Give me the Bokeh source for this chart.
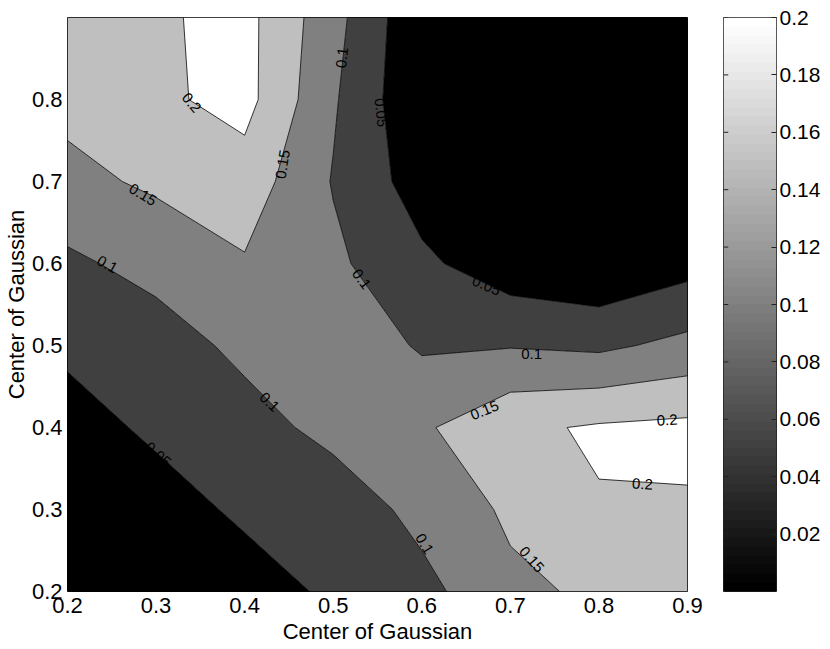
import numpy as np
from bokeh.plotting import figure
from bokeh.models import Range1d, FixedTicker, LinearColorMapper, CustomJSTickFormatter
from bokeh.layouts import row
from bokeh.embed import file_html
from bokeh.resources import INLINE
from bokeh.core.properties import value

# grid of Gaussian centres
x_centers = [0.2, 0.3, 0.4, 0.5, 0.6, 0.7, 0.8, 0.9]
y_centers = [0.2, 0.3, 0.4, 0.5, 0.6, 0.7, 0.8, 0.9]

# values, one list per row (y = 0.2 ... 0.9)
z_y020 = [0.002, 0.010, 0.028, 0.058, 0.0845, 0.140, 0.158, 0.175]
z_y030 = [0.010, 0.029, 0.0586, 0.0685, 0.1155, 0.158, 0.1967, 0.195]
z_y040 = [0.030, 0.059, 0.0795, 0.1155, 0.1424, 0.190, 0.2056, 0.2118]
z_y050 = [0.0594, 0.0755, 0.1126, 0.137, 0.094, 0.097, 0.090, 0.1138]
z_y060 = [0.0904, 0.117, 0.1455, 0.110, 0.060, 0.020, 0.005, 0.032]
z_y070 = [0.137, 0.158, 0.178, 0.097, 0.026, 0.005, 0.002, 0.003]
z_y080 = [0.163, 0.190, 0.217, 0.106, 0.006, 0.003, 0.002, 0.002]
z_y090 = [0.175, 0.193, 0.2157, 0.1176, 0.0076, 0.004, 0.002, 0.003]

contour_levels = [0.0, 0.05, 0.1, 0.15, 0.2, 0.25]
x_ticks = [0.2, 0.3, 0.4, 0.5, 0.6, 0.7, 0.8, 0.9]
y_ticks = [0.2, 0.3, 0.4, 0.5, 0.6, 0.7, 0.8]
cbar_ticks = [0.02, 0.04, 0.06, 0.08, 0.1, 0.12, 0.14, 0.16, 0.18, 0.2]
axis_title = "Center of Gaussian"

# contour labels (clabel)
label_text = ["0.2", "0.15", "0.15", "0.1", "0.05", "0.1", "0.05", "0.1",
              "0.15", "0.2", "0.2", "0.15", "0.1", "0.1", "0.1", "0.05"]
label_x = [0.340, 0.285, 0.443, 0.510, 0.554, 0.532, 0.673, 0.724,
           0.671, 0.877, 0.849, 0.724, 0.603, 0.428, 0.245, 0.302]
label_y = [0.796, 0.684, 0.721, 0.851, 0.784, 0.581, 0.573, 0.490,
           0.421, 0.409, 0.331, 0.239, 0.258, 0.431, 0.599, 0.367]
label_angle_deg = [-50, -31, 81, 84, -84, -53, -23, 0,
                   22, 3, -3, -48, -59, -44, -29, -42]

Z = np.array([z_y020, z_y030, z_y040, z_y050, z_y060, z_y070, z_y080, z_y090])

FONT = "Liberation Sans"
gray64 = ["#%02x%02x%02x" % (v, v, v) for v in [int(round(i * 255 / 63)) for i in range(64)]]
fill_colors = ["#000000", "#404040", "#808080", "#bfbfbf", "#ffffff"]

H = 651
p = figure(width=723, height=H,
           x_range=Range1d(0.2, 0.9), y_range=Range1d(0.2, 0.9),
           output_backend="svg", toolbar_location=None,
           min_border_left=61, min_border_right=36, min_border_top=14, min_border_bottom=60)
p.background_fill_color = "white"
p.border_fill_color = "white"
p.outline_line_color = "black"
p.outline_line_width = 1
p.grid.visible = False

p.contour(x=np.array(x_centers), y=np.array(y_centers), z=Z, levels=contour_levels,
          fill_color=fill_colors, line_color="black", line_width=0.8)

p.text(x=label_x, y=label_y, text=label_text, angle=np.deg2rad(label_angle_deg),
       text_font=value(FONT), text_font_size="15px", text_color="black",
       text_align="center", text_baseline="middle")

for ax in (p.xaxis[0], p.yaxis[0]):
    ax.axis_label = axis_title
    ax.axis_label_text_font = FONT
    ax.axis_label_text_font_size = "22px"
    ax.axis_label_text_font_style = "normal"
    ax.axis_label_text_color = "black"
    ax.major_label_text_font = FONT
    ax.major_label_text_font_size = "22px"
    ax.major_label_text_color = "black"
    ax.major_tick_in = 0
    ax.major_tick_out = 0
    ax.minor_tick_in = 0
    ax.minor_tick_out = 0
    ax.axis_line_color = None
    ax.formatter = CustomJSTickFormatter(code="return tick.toFixed(1);")

p.xaxis[0].ticker = FixedTicker(ticks=x_ticks)
p.yaxis[0].ticker = FixedTicker(ticks=y_ticks)
p.xaxis[0].major_label_standoff = 6
p.xaxis[0].axis_label_standoff = 3
p.yaxis[0].major_label_standoff = 5
p.yaxis[0].axis_label_standoff = 0

# colour bar drawn as its own small plot
mapper = LinearColorMapper(palette=gray64, low=0.0, high=0.2)
cb = figure(width=100, height=H,
            x_range=Range1d(0, 1), y_range=Range1d(0.0, 0.2),
            x_axis_location=None, y_axis_location="right",
            output_backend="svg", toolbar_location=None,
            min_border_left=0, min_border_right=44, min_border_top=17, min_border_bottom=60)
cb.background_fill_color = "white"
cb.border_fill_color = "white"
cb.outline_line_color = "#222222"
cb.grid.visible = False
grad = np.linspace(0.0, 0.2, 64).reshape(64, 1)
cb.image(image=[grad], x=0, y=0.0, dw=1, dh=0.2, color_mapper=mapper)
cb.segment(x0=[0.0] * len(cbar_ticks), x1=[0.09] * len(cbar_ticks),
           y0=cbar_ticks, y1=cbar_ticks, line_color="#222222", line_width=1)

ry = cb.yaxis[0]
ry.ticker = FixedTicker(ticks=cbar_ticks)
ry.formatter = CustomJSTickFormatter(code="return (Math.round(tick*100)/100).toString();")
ry.major_label_text_font = FONT
ry.major_label_text_font_size = "21px"
ry.major_label_text_color = "black"
ry.major_label_standoff = 3
ry.major_tick_in = 5
ry.major_tick_out = 0
ry.minor_tick_in = 0
ry.minor_tick_out = 0
ry.major_tick_line_color = "#222222"
ry.axis_line_color = None

layout = row(p, cb)
open("out.html", "w").write(file_html(layout, INLINE))
